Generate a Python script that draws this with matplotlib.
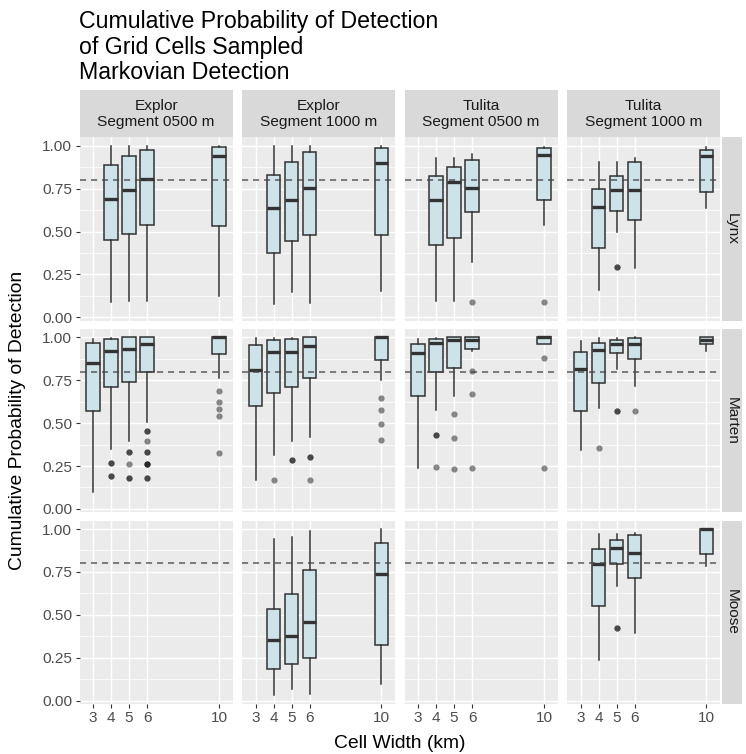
import matplotlib
matplotlib.use("Agg")
import matplotlib.pyplot as plt

plt.rcParams['font.family'] = ['Liberation Sans', 'DejaVu Sans']

# box stats per cell width: (width_km, whisker_low, q1, median, q3, whisker_high)
LYNX_EXPLOR_0500 = [
    (4, 0.090, 0.450, 0.690, 0.885, 1.000),
    (5, 0.097, 0.485, 0.740, 0.940, 1.000),
    (6, 0.093, 0.540, 0.805, 0.977, 1.000),
    (10, 0.122, 0.535, 0.940, 0.994, 1.000),
]
LYNX_EXPLOR_1000 = [
    (4, 0.078, 0.373, 0.639, 0.831, 1.000),
    (5, 0.149, 0.446, 0.682, 0.907, 1.000),
    (6, 0.081, 0.481, 0.755, 0.963, 1.000),
    (10, 0.151, 0.477, 0.899, 0.984, 1.000),
]
LYNX_TULITA_0500 = [
    (4, 0.093, 0.423, 0.682, 0.822, 0.926),
    (5, 0.097, 0.464, 0.788, 0.876, 0.926),
    (6, 0.320, 0.615, 0.752, 0.917, 0.950),
    (10, 0.538, 0.684, 0.946, 0.984, 0.994),
]
LYNX_TULITA_1000 = [
    (4, 0.159, 0.402, 0.645, 0.746, 0.907),
    (5, 0.495, 0.621, 0.742, 0.823, 0.903),
    (6, 0.289, 0.569, 0.740, 0.905, 0.926),
    (10, 0.639, 0.730, 0.940, 0.975, 0.990),
]
MARTEN_EXPLOR_0500 = [
    (3, 0.098, 0.569, 0.848, 0.969, 0.990),
    (4, 0.347, 0.712, 0.918, 0.990, 0.995),
    (5, 0.397, 0.740, 0.934, 1.000, 1.000),
    (6, 0.508, 0.796, 0.963, 1.000, 1.000),
    (10, 0.765, 0.901, 1.000, 1.000, 1.000),
]
MARTEN_EXPLOR_1000 = [
    (3, 0.168, 0.600, 0.809, 0.955, 0.995),
    (4, 0.314, 0.677, 0.912, 0.985, 0.995),
    (5, 0.397, 0.712, 0.912, 0.990, 0.995),
    (6, 0.419, 0.761, 0.951, 1.000, 1.000),
    (10, 0.749, 0.870, 1.000, 1.000, 1.000),
]
MARTEN_TULITA_0500 = [
    (3, 0.240, 0.660, 0.910, 0.959, 0.988),
    (4, 0.575, 0.800, 0.965, 0.990, 0.995),
    (5, 0.656, 0.819, 0.986, 1.000, 1.000),
    (6, 0.918, 0.934, 0.983, 1.000, 1.000),
    (10, 0.959, 0.959, 1.000, 1.000, 1.000),
]
MARTEN_TULITA_1000 = [
    (3, 0.343, 0.571, 0.814, 0.916, 0.980),
    (4, 0.586, 0.732, 0.926, 0.969, 0.995),
    (5, 0.817, 0.908, 0.963, 0.982, 0.995),
    (6, 0.716, 0.874, 0.961, 0.995, 1.000),
    (10, 0.920, 0.959, 0.983, 1.000, 1.000),
]
MOOSE_EXPLOR_0500 = []
MOOSE_EXPLOR_1000 = [
    (4, 0.033, 0.182, 0.353, 0.534, 0.942),
    (5, 0.068, 0.215, 0.376, 0.623, 0.953),
    (6, 0.037, 0.246, 0.456, 0.763, 0.988),
    (10, 0.095, 0.322, 0.740, 0.920, 1.000),
]
MOOSE_TULITA_0500 = []
MOOSE_TULITA_1000 = [
    (4, 0.235, 0.553, 0.796, 0.882, 0.971),
    (5, 0.668, 0.794, 0.889, 0.938, 0.971),
    (6, 0.394, 0.713, 0.862, 0.965, 0.978),
    (10, 0.786, 0.856, 1.000, 1.000, 1.000),
]

# outlying grid cells (width_km, probability); repeated entries are tied cells
LYNX_EXPLOR_0500_OUT = []
LYNX_EXPLOR_1000_OUT = []
LYNX_TULITA_0500_OUT = [(6, 0.091), (10, 0.091)]
LYNX_TULITA_1000_OUT = [(5, 0.291), (5, 0.291)]
MARTEN_EXPLOR_0500_OUT = [
    (4, 0.269), (4, 0.269), (4, 0.192), (4, 0.192),
    (5, 0.330), (5, 0.330), (5, 0.260), (5, 0.180), (5, 0.180),
    (6, 0.454), (6, 0.454), (6, 0.397), (6, 0.332), (6, 0.332),
    (6, 0.262), (6, 0.262), (6, 0.262), (6, 0.182), (6, 0.182),
    (10, 0.687), (10, 0.623), (10, 0.582), (10, 0.541), (10, 0.324),
]
MARTEN_EXPLOR_1000_OUT = [
    (4, 0.170), (5, 0.287), (5, 0.287), (6, 0.301), (6, 0.301), (6, 0.166),
    (10, 0.644), (10, 0.575), (10, 0.495), (10, 0.403),
]
MARTEN_TULITA_0500_OUT = [
    (4, 0.432), (4, 0.432), (4, 0.246),
    (5, 0.553), (5, 0.415), (5, 0.234),
    (6, 0.805), (6, 0.668), (6, 0.240),
    (10, 0.881), (10, 0.238),
]
MARTEN_TULITA_1000_OUT = [(4, 0.355), (5, 0.569), (5, 0.569), (6, 0.569)]
MOOSE_EXPLOR_0500_OUT = []
MOOSE_EXPLOR_1000_OUT = []
MOOSE_TULITA_0500_OUT = []
MOOSE_TULITA_1000_OUT = [(5, 0.423), (5, 0.423)]

species = ['Lynx', 'Marten', 'Moose']
segments = ['Explor\nSegment 0500 m', 'Explor\nSegment 1000 m',
            'Tulita\nSegment 0500 m', 'Tulita\nSegment 1000 m']
cell_widths = [3, 4, 5, 6, 10]
y_breaks = [0.0, 0.25, 0.5, 0.75, 1.0]
y_minor = [0.125, 0.375, 0.625, 0.875]
target = 0.8

boxes = [
    [LYNX_EXPLOR_0500, LYNX_EXPLOR_1000, LYNX_TULITA_0500, LYNX_TULITA_1000],
    [MARTEN_EXPLOR_0500, MARTEN_EXPLOR_1000, MARTEN_TULITA_0500, MARTEN_TULITA_1000],
    [MOOSE_EXPLOR_0500, MOOSE_EXPLOR_1000, MOOSE_TULITA_0500, MOOSE_TULITA_1000],
]
outliers = [
    [LYNX_EXPLOR_0500_OUT, LYNX_EXPLOR_1000_OUT, LYNX_TULITA_0500_OUT, LYNX_TULITA_1000_OUT],
    [MARTEN_EXPLOR_0500_OUT, MARTEN_EXPLOR_1000_OUT, MARTEN_TULITA_0500_OUT, MARTEN_TULITA_1000_OUT],
    [MOOSE_EXPLOR_0500_OUT, MOOSE_EXPLOR_1000_OUT, MOOSE_TULITA_0500_OUT, MOOSE_TULITA_1000_OUT],
]

W, H = 746, 754
fig = plt.figure(figsize=(W / 100, H / 100), dpi=100)
fig.patch.set_facecolor('white')


def add_px_axes(left, top, width, height):
    return fig.add_axes([left / W, 1 - (top + height) / H, width / W, height / H])


panel_left = [79.5, 242.0, 404.5, 567.0]
panel_w = 153.2
panel_top = [137.4, 329.0, 520.7]
panel_h = 183.1

base = 13.9
box_fill = '#cde2e9'
edge = '#333333'

for r, sp in enumerate(species):
    for c, seg in enumerate(segments):
        ax = add_px_axes(panel_left[c], panel_top[r], panel_w, panel_h)
        ax.set_facecolor('#ebebeb')
        for s in ax.spines.values():
            s.set_visible(False)
        ax.set_xlim(2.2375, 10.7625)
        ax.set_ylim(-0.0185, 1.0485)

        # ggplot-like grid
        for y in y_minor:
            ax.axhline(y, color='white', lw=0.55, zorder=0)
        for y in y_breaks:
            ax.axhline(y, color='white', lw=1.05, zorder=0)
        for x in cell_widths:
            ax.axvline(x, color='white', lw=1.05, zorder=0)

        data = boxes[r][c]
        if data:
            stats = [dict(whislo=lo, q1=q1, med=med, q3=q3, whishi=hi, fliers=[])
                     for _, lo, q1, med, q3, hi in data]
            ax.bxp(stats, positions=[d[0] for d in data], widths=0.75,
                   patch_artist=True, showcaps=False, manage_ticks=False,
                   boxprops=dict(facecolor=box_fill, edgecolor=edge, linewidth=1.1),
                   whiskerprops=dict(color=edge, linewidth=1.1),
                   medianprops=dict(color=edge, linewidth=2.4, solid_capstyle='butt'),
                   zorder=2)
        pts = outliers[r][c]
        if pts:
            ax.scatter([p[0] for p in pts], [p[1] for p in pts], s=20,
                       color='black', alpha=0.45, linewidths=0, zorder=3)

        ax.axhline(target, color='#444444', lw=1.1, alpha=0.85,
                   dashes=(4, 3.2), zorder=4)

        ax.set_xticks(cell_widths)
        ax.set_yticks(y_breaks)
        ax.tick_params(colors='#333333', length=2.7, width=0.8,
                       labelcolor='#4d4d4d', labelsize=base * 0.8, pad=2.5)
        if c == 0:
            ax.set_yticklabels([f'{v:.2f}' for v in y_breaks])
        else:
            ax.tick_params(axis='y', length=0, labelleft=False)
        if r == len(species) - 1:
            ax.set_xticklabels([str(v) for v in cell_widths])
        else:
            ax.tick_params(axis='x', length=0, labelbottom=False)

        # column strips on top
        if r == 0:
            st = add_px_axes(panel_left[c], 90, panel_w, panel_top[0] - 90)
            st.set_facecolor('#d9d9d9')
            st.set_xticks([])
            st.set_yticks([])
            for s in st.spines.values():
                s.set_visible(False)
            st.text(0.5, 0.5, seg, ha='center', va='center', fontsize=base * 0.8,
                    color='#1a1a1a', linespacing=1.16, transform=st.transAxes)

    # row strip on the right
    rs = add_px_axes(722.0, panel_top[r], 19.5, panel_h)
    rs.set_facecolor('#d9d9d9')
    rs.set_xticks([])
    rs.set_yticks([])
    for s in rs.spines.values():
        s.set_visible(False)
    rs.text(0.5, 0.5, sp, ha='center', va='center', rotation=-90,
            fontsize=base * 0.8, color='#1a1a1a', transform=rs.transAxes)

fig.text(79.3 / W, 1 - 10 / H,
         'Cumulative Probability of Detection\nof Grid Cells Sampled\nMarkovian Detection',
         ha='left', va='top', fontsize=base * 1.2, color='black', linespacing=1.15)
fig.text(18 / W, 1 - 420.6 / H, 'Cumulative Probability of Detection',
         rotation=90, ha='center', va='center', fontsize=base, color='black')
fig.text(400 / W, 1 - 747.5 / H, 'Cell Width (km)', ha='center', va='baseline',
         fontsize=base, color='black')

fig.savefig('out.png', dpi=100)
